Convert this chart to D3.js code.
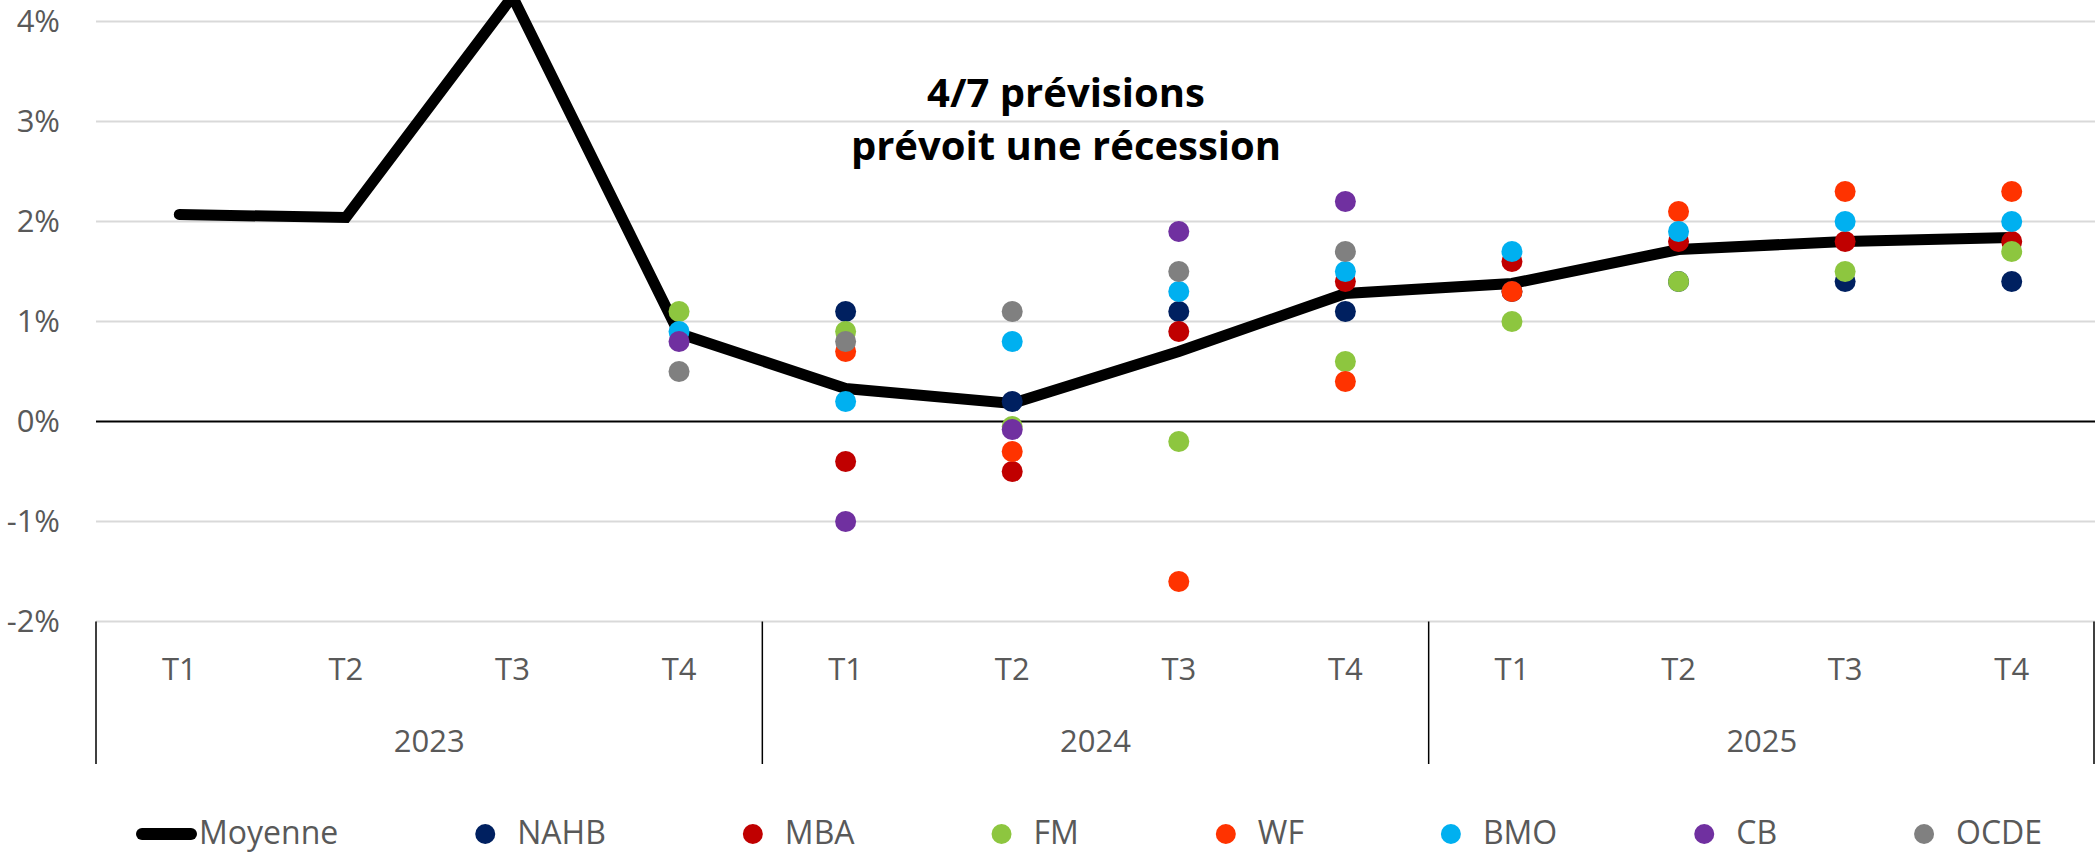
<!DOCTYPE html>
<html>
<head>
<meta charset="utf-8">
<script src="https://cdn.jsdelivr.net/npm/d3@7"></script>
<style>
  body { margin: 0; background: #fff; }
  text { font-family: "Open Sans", sans-serif; }
</style>
</head>
<body>
<div id="chart"></div>
<script>
const quarters = ['T1', 'T2', 'T3', 'T4', 'T1', 'T2', 'T3', 'T4', 'T1', 'T2', 'T3', 'T4']
const years = ['2023', '2024', '2025']
const yTicks = [-2, -1, 0, 1, 2, 3, 4]

const moyenne = [2.07, 2.04, 4.25, 0.88, 0.33, 0.18, 0.7, 1.28, 1.38, 1.72, 1.8, 1.84]
const nahb = [null, null, null, null, 1.1, 0.2, 1.1, 1.1, 1.3, 1.4, 1.4, 1.4]
const mba = [null, null, null, null, -0.4, -0.5, 0.9, 1.4, 1.6, 1.8, 1.8, 1.8]
const fm = [null, null, null, 1.1, 0.9, -0.05, -0.2, 0.6, 1.0, 1.4, 1.5, 1.7]
const wf = [null, null, null, null, 0.7, -0.3, -1.6, 0.4, 1.3, 2.1, 2.3, 2.3]
const bmo = [null, null, null, 0.9, 0.2, 0.8, 1.3, 1.5, 1.7, 1.9, 2.0, 2.0]
const cb = [null, null, null, 0.8, -1.0, -0.08, 1.9, 2.2, null, null, null, null]
const ocde = [null, null, null, 0.5, 0.8, 1.1, 1.5, 1.7, null, null, null, null]

const seriesNames = ['NAHB', 'MBA', 'FM', 'WF', 'BMO', 'CB', 'OCDE']
const seriesValues = [nahb, mba, fm, wf, bmo, cb, ocde]
const seriesColors = ['#002060', '#c00000', '#8dc63f', '#ff3300', '#00b0f0', '#7030a0', '#808080']

const titleLines = ['4/7 prévisions', 'prévoit une récession']

const width = 2095
const height = 853
const margin = { top: 21.5, right: 0, bottom: 231.5, left: 96 }
const textColor = '#595959'

const svg = d3.select('#chart')
  .append('svg')
  .attr('width', width)
  .attr('height', height)

const idx = quarters.map((q, i) => i)
const x = d3.scaleBand()
  .domain(idx)
  .range([margin.left, width - margin.right])
const y = d3.scaleLinear()
  .domain([-2, 4])
  .range([height - margin.bottom, margin.top])

// gridlines
svg.append('g')
  .selectAll('line')
  .data(yTicks.filter(d => d !== 0))
  .join('line')
  .attr('x1', margin.left)
  .attr('x2', width)
  .attr('y1', d => y(d))
  .attr('y2', d => y(d))
  .attr('stroke', '#d9d9d9')
  .attr('stroke-width', 2)

// y axis labels
const yAxis = svg.append('g')
  .attr('transform', 'translate(60,0)')
  .call(d3.axisLeft(y).tickValues(yTicks).tickFormat(d => d + '%').tickSize(0).tickPadding(0))
yAxis.select('.domain').remove()
yAxis.selectAll('text')
  .attr('font-family', '"Open Sans", sans-serif')
  .attr('font-size', 31)
  .attr('fill', textColor)

// zero line
svg.append('line')
  .attr('x1', margin.left)
  .attr('x2', width)
  .attr('y1', y(0))
  .attr('y2', y(0))
  .attr('stroke', '#000')
  .attr('stroke-width', 2)

// category axis: quarters then years
const xAxis = svg.append('g')
  .attr('transform', 'translate(0,' + y(-2) + ')')
  .call(d3.axisBottom(x).tickFormat(i => quarters[i]).tickSize(0).tickPadding(36))
xAxis.select('.domain').remove()
xAxis.selectAll('text')
  .attr('font-family', '"Open Sans", sans-serif')
  .attr('font-size', 31)
  .attr('fill', textColor)

const bw = x.bandwidth()
svg.append('g')
  .selectAll('text')
  .data(years)
  .join('text')
  .attr('x', (d, i) => x(i * 4) + bw * 2)
  .attr('y', 752)
  .attr('text-anchor', 'middle')
  .attr('font-size', 31)
  .attr('fill', textColor)
  .text(d => d)

// group dividers
svg.append('g')
  .selectAll('line')
  .data(d3.range(years.length + 1))
  .join('line')
  .attr('x1', i => Math.min(x.range()[0] + i * 4 * bw, width - 1))
  .attr('x2', i => Math.min(x.range()[0] + i * 4 * bw, width - 1))
  .attr('y1', y(-2))
  .attr('y2', 764)
  .attr('stroke', '#000')
  .attr('stroke-width', 1.5)

// average line
const cx = i => x(i) + bw / 2
svg.append('path')
  .datum(moyenne)
  .attr('fill', 'none')
  .attr('stroke', '#000')
  .attr('stroke-width', 11)
  .attr('stroke-linecap', 'round')
  .attr('stroke-linejoin', 'miter')
  .attr('d', d3.line()
    .x((d, i) => cx(i))
    .y(d => y(d)))

// forecast dots, in legend order so later series sit on top
seriesValues.forEach((vals, s) => {
  svg.append('g')
    .selectAll('circle')
    .data(vals.map((v, i) => ({ v, i })).filter(d => d.v !== null))
    .join('circle')
    .attr('cx', d => cx(d.i))
    .attr('cy', d => y(d.v))
    .attr('r', 10.5)
    .attr('fill', seriesColors[s])
})

// annotation
svg.append('g')
  .selectAll('text')
  .data(titleLines)
  .join('text')
  .attr('x', 1066)
  .attr('y', (d, i) => 107 + i * 53)
  .attr('text-anchor', 'middle')
  .attr('font-size', 40)
  .attr('font-weight', 'bold')
  .attr('fill', '#000')
  .text(d => d)

// legend
const legend = svg.append('g')
const legendY = 834
const legendSize = 32
legend.append('line')
  .attr('x1', 142)
  .attr('x2', 191)
  .attr('y1', legendY)
  .attr('y2', legendY)
  .attr('stroke', '#000')
  .attr('stroke-width', 12)
  .attr('stroke-linecap', 'round')
let t = legend.append('text')
  .attr('x', 199)
  .attr('y', legendY + 10)
  .attr('font-size', legendSize)
  .attr('fill', textColor)
  .text('Moyenne')
let end = 199 + t.node().getComputedTextLength()
seriesNames.forEach((name, s) => {
  const dotX = end + 147
  legend.append('circle')
    .attr('cx', dotX)
    .attr('cy', legendY)
    .attr('r', 10)
    .attr('fill', seriesColors[s])
  t = legend.append('text')
    .attr('x', dotX + 32)
    .attr('y', legendY + 10)
    .attr('font-size', legendSize)
    .attr('fill', textColor)
    .text(name)
  end = dotX + 32 + t.node().getComputedTextLength()
})
</script>
</body>
</html>
